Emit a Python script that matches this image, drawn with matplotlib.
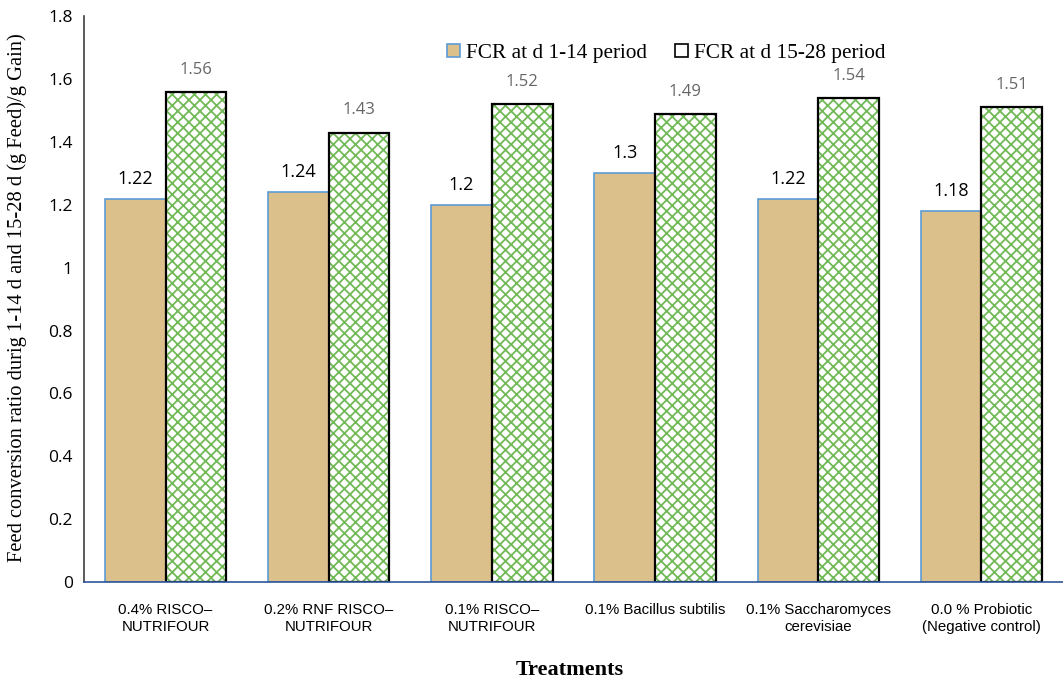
import matplotlib
matplotlib.use("Agg")
import matplotlib.pyplot as plt
import numpy as np
from matplotlib.patches import Patch

categories = ["0.4% RISCO–\nNUTRIFOUR", "0.2% RNF RISCO–\nNUTRIFOUR", "0.1% RISCO–\nNUTRIFOUR",
              "0.1% Bacillus subtilis", "0.1% Saccharomyces\ncerevisiae", "0.0 % Probiotic\n(Negative control)"]
fcr_1_14 = [1.22, 1.24, 1.2, 1.3, 1.22, 1.18]
fcr_15_28 = [1.56, 1.43, 1.52, 1.49, 1.54, 1.51]
series_names = ["FCR at d 1-14 period", "FCR at d 15-28 period"]
yticks = [0, 0.2, 0.4, 0.6, 0.8, 1, 1.2, 1.4, 1.6, 1.8]
ytick_labels = ["0", "0.2", "0.4", "0.6", "0.8", "1", "1.2", "1.4", "1.6", "1.8"]

plt.rcParams['hatch.linewidth'] = 1.3

fig = plt.figure(figsize=(10.63, 6.8), dpi=100)
ax = fig.add_axes([0.079, 0.144, 0.921, 0.832])

x = np.arange(len(categories))
w = 0.372
tan = "#DBC08C"
green = "#72B957"

ax.bar(x - w/2, fcr_1_14, w, color=tan, edgecolor="#5B9BD5", linewidth=1.2)
# hatch layer
ax.bar(x + w/2, fcr_15_28, w, color="white", edgecolor=green, hatch="xxx", linewidth=0)
ax.bar(x + w/2, fcr_15_28, w, color="none", edgecolor="black", linewidth=1.6)

for xi, v in zip(x, fcr_1_14):
    ax.text(xi - w/2, v + 0.035, f"{v:g}", ha="center", va="bottom", fontsize=13,
            family="Open Sans", color="black")
for xi, v in zip(x, fcr_15_28):
    ax.text(xi + w/2, v + 0.045, f"{v:g}", ha="center", va="bottom", fontsize=12,
            family="Open Sans", color="#666666")

ax.set_xlim(-0.5, len(categories) - 0.5)
ax.set_ylim(0, 1.8)
ax.set_yticks(yticks)
ax.set_yticklabels(ytick_labels, family="Open Sans", fontsize=12.5)
ax.set_xticks(x)
ax.set_xticklabels(categories, family="Liberation Sans", fontsize=10.8, linespacing=1.3)
ax.tick_params(axis="both", length=0)
ax.tick_params(axis="y", pad=8)
ax.tick_params(axis="x", pad=15)

for s in ["top", "right"]:
    ax.spines[s].set_visible(False)
ax.spines["left"].set_color("#404040")
ax.spines["left"].set_linewidth(1.2)
ax.spines["bottom"].set_color("#2F5597")
ax.spines["bottom"].set_linewidth(1.2)

ax.set_ylabel("Feed conversion ratio durig 1-14 d and 15-28 d (g Feed)/g Gain)",
              family="Liberation Serif", fontsize=14.8)
ax.yaxis.set_label_coords(-0.058, 0.502)
ax.set_xlabel("Treatments", family="Liberation Serif", fontsize=16, fontweight="bold")
ax.xaxis.set_label_coords(0.496, -0.138)

h1 = Patch(facecolor=tan, edgecolor="#5B9BD5", linewidth=1.2)
h2 = Patch(facecolor="white", edgecolor="black", linewidth=1.2)
ax.legend([h1, h2], series_names, loc="upper center", bbox_to_anchor=(0.595, 0.985),
          ncol=2, frameon=False, prop={"family": "Liberation Serif", "size": 15.3},
          handlelength=0.6, handleheight=0.6, handletextpad=0.3, columnspacing=1.3)

fig.savefig("out.png", dpi=100)
